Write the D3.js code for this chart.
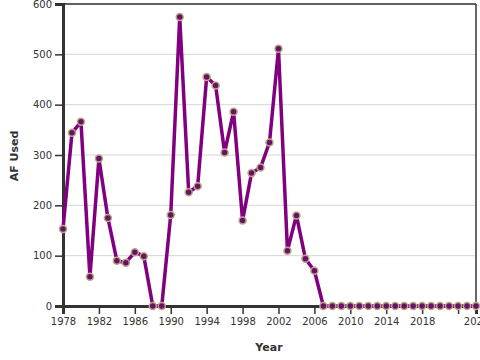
<!DOCTYPE html>
<html><head><meta charset="utf-8">
<script src="https://cdn.jsdelivr.net/npm/d3@7"></script>
<style>
body{margin:0;background:#fff;}
svg{display:block;font-family:"DejaVu Sans",Verdana,sans-serif;}
</style></head>
<body><svg id="c" width="480" height="360"></svg>
<script>
const years = d3.range(1978, 2025);
const afUsed = [153,344,366,58,293,175,90,86,107,99,0,0,181,574,226,238,455,438,305,386,170,264,275,325,511,110,180,94,70,
  0,0,0,0,0,0,0,0,0,0,0,0,0,0,0,0,0,0];
const yTicks = [0,100,200,300,400,500,600];
const xTicks = [1978,1982,1986,1990,1994,1998,2002,2006,2010,2014,2018,2022,2024];
const xLabelled = [1978,1982,1986,1990,1994,1998,2002,2006,2010,2014,2018,2024];

const data = years.map((y,i)=>({year:y, v:afUsed[i]}));
const svg = d3.select("#c");
const L=63, R=476, T=4, B=306;
const x = d3.scaleLinear().domain([1978,2024]).range([L,R]);
const y = d3.scaleLinear().domain([0,600]).range([B,T]);

// grid
svg.append("g").selectAll("line").data(yTicks).join("line")
  .attr("x1",L).attr("x2",R).attr("y1",d=>y(d)).attr("y2",d=>y(d))
  .attr("stroke","#d6d6d6").attr("stroke-width",1);

// frame top/right
svg.append("line").attr("x1",L).attr("x2",R).attr("y1",T).attr("y2",T).attr("stroke","#333").attr("stroke-width",1.5);
svg.append("line").attr("x1",R).attr("x2",R).attr("y1",T).attr("y2",B).attr("stroke","#333").attr("stroke-width",1.5);

// axes
const yAxis = svg.append("g").attr("transform",`translate(${L},0)`)
  .call(d3.axisLeft(y).tickValues(yTicks).tickSize(8).tickPadding(3));
const xAxis = svg.append("g").attr("transform",`translate(0,${B})`)
  .call(d3.axisBottom(x).tickValues(xTicks).tickSize(8).tickPadding(4)
    .tickFormat(d=>xLabelled.includes(d)?String(d):""));
[yAxis,xAxis].forEach(a=>{
  a.select(".domain").attr("stroke","#333").attr("stroke-width",3);
  a.selectAll(".tick line").attr("stroke","#333").attr("stroke-width",1.5);
  a.selectAll("text").attr("fill","#333").attr("font-size","10px").attr("font-family","DejaVu Sans, Verdana, sans-serif");
});

// line
svg.append("path").datum(data)
  .attr("fill","none").attr("stroke","#800080").attr("stroke-width",3.5)
  .attr("stroke-linejoin","round")
  .attr("d", d3.line().x(d=>x(d.year)).y(d=>y(d.v)));

// points
svg.append("g").selectAll("circle").data(data).join("circle")
  .attr("cx",d=>x(d.year)).attr("cy",d=>y(d.v)).attr("r",3.5)
  .attr("fill","#6a106a").attr("stroke","#b8a882").attr("stroke-width",1.5);

// titles
svg.append("text").attr("x",269).attr("y",351).attr("text-anchor","middle")
  .attr("font-size","11px").attr("font-weight","bold").attr("fill","#333").text("Year");
svg.append("text").attr("transform","translate(18,156) rotate(-90)").attr("text-anchor","middle")
  .attr("font-size","11px").attr("font-weight","bold").attr("fill","#333").text("AF Used");
</script></body></html>
